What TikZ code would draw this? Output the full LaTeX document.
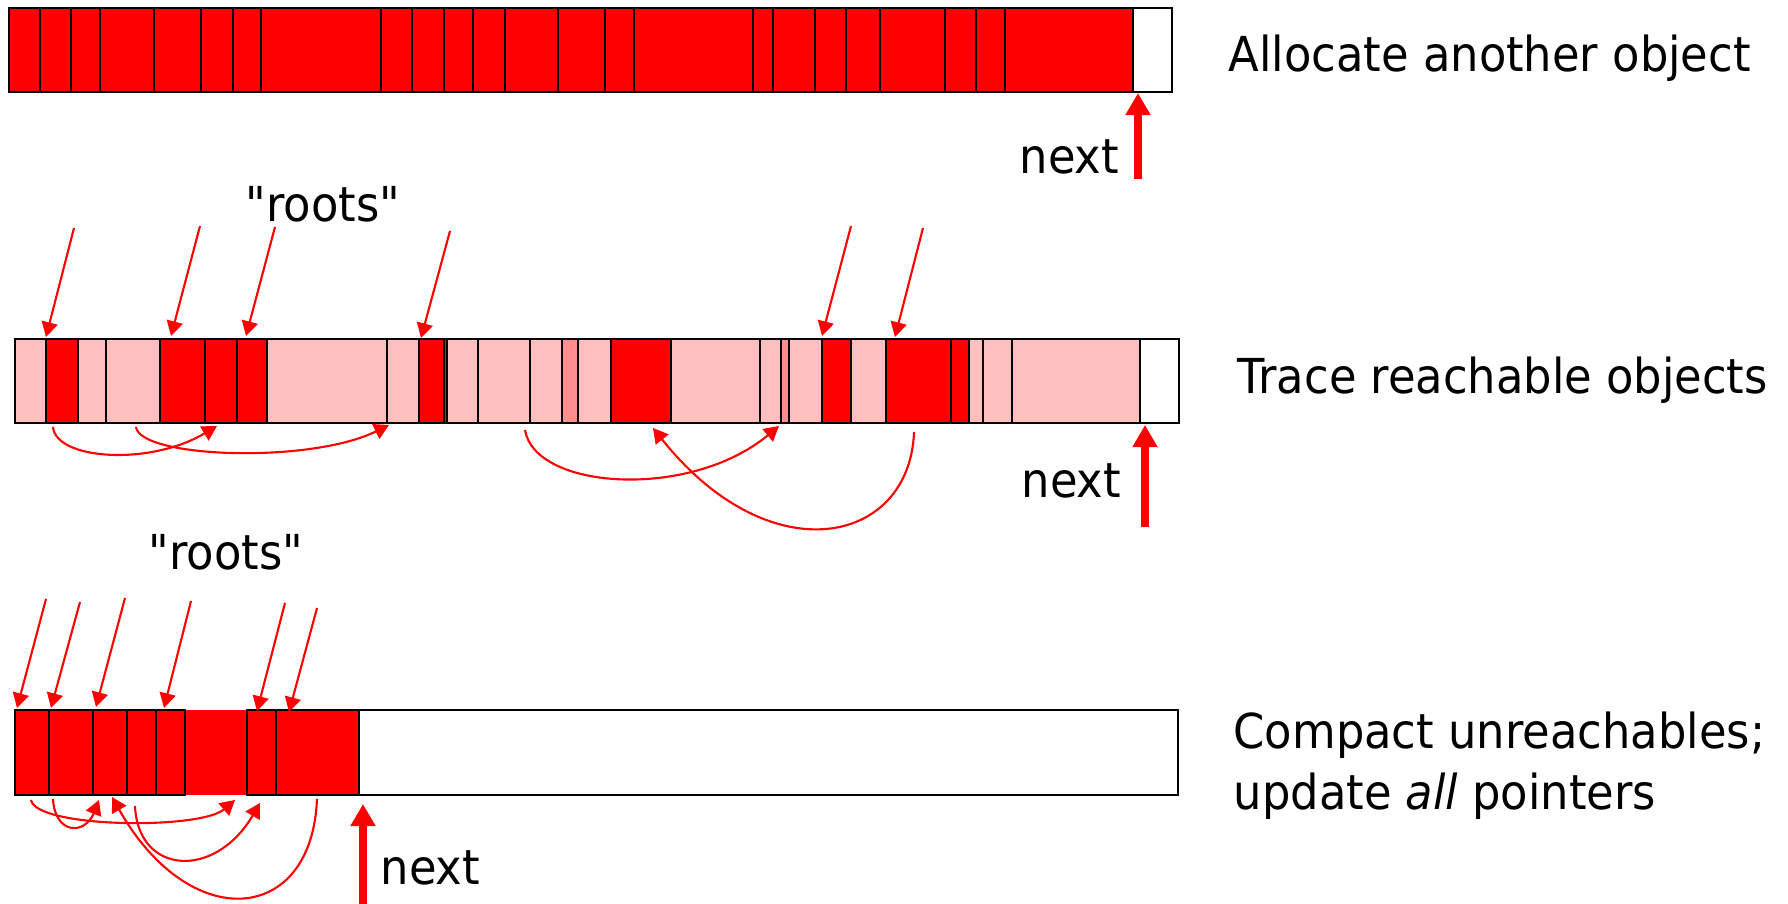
\documentclass[tikz,border=0pt]{standalone}
\usepackage{fontspec}
\setmainfont{DejaVu Sans}[FakeStretch=0.93,Ligatures=TeXOff]
\usetikzlibrary{arrows.meta}
\definecolor{live}{RGB}{255,0,0}
\definecolor{dead}{RGB}{255,191,191}
\definecolor{deadish}{RGB}{255,143,143}
\tikzset{
  cell/.style={draw=black,line width=0.7pt},
  ptr/.style={draw=red,line width=0.6pt,-{Triangle[width=4.6pt,length=4.2pt]}},
  nextptr/.style={draw=red,line width=2.3pt,-{Triangle[width=6.8pt,length=6.3pt]}},
  lbl/.style={font=\fontsize{13.7}{17.5}\selectfont,inner sep=0pt,anchor=base west}
}
\begin{document}
\begin{tikzpicture}[x=0.01cm,y=-0.01cm]
\useasboundingbox (0,0) rectangle (1788,904);

\foreach \a/\b in {9/40,40/71,71/100,100/154,154/201,201/233,233/261,261/381,381/412,412/444,444/473,473/505,505/558,558/605,605/634,634/753,753/773,773/815,815/846,846/880,880/945,945/976,976/1005,1005/1133}
  \draw[cell,fill=live] (\a,8) rectangle (\b,92);
\draw[cell,fill=white] (1133,8) rectangle (1172,92);
\node[lbl] (allocate) at (1228,72) {Allocate another object};
\node[lbl] (nextA) at (1019,174) {next};
\coordinate (footA) at (1138,179);
\coordinate (tipA) at (1138,93);
\draw[nextptr] (footA) -- (tipA);

\foreach \a/\b/\c in {15/46/dead,46/78/live,78/106/dead,106/160/dead,160/205/live,205/237/live,237/267/live,267/387/dead,387/419/dead,419/444/live,444/447/live,447/478/dead,478/530/dead,530/562/dead,562/578/deadish,578/611/dead,611/671/live,671/760/dead,760/781/dead,781/789/deadish,789/822/dead,822/851/live,851/886/dead,886/951/live,951/969/live,969/983/dead,983/1012/dead,1012/1140/dead,1140/1179/white}
  \draw[cell,fill=\c] (\a,339) rectangle (\b,423);
\node[lbl] (rootsB) at (245,222) {"roots"};
\node[lbl] (trace) at (1237,394) {Trace reachable objects};
\node[lbl] (nextB) at (1021,498) {next};
\foreach \n/\sx/\sy/\ex/\ey in {1/74/228/46/337,2/200/226/171/336,3/275/227/246/336,4/450/231/421/338,5/851/226/822/336,6/923/228/895/337}{
  \coordinate (rootB\n) at (\sx,\sy);
  \coordinate (objB\n) at (\ex,\ey);
  \draw[ptr] (rootB\n) -- (objB\n);
}
\coordinate (fromA) at (53,427);
\coordinate (toA) at (217,426);
\coordinate (fromB) at (136,427);
\coordinate (toB) at (389,425);
\coordinate (fromC) at (525,430);
\coordinate (toC) at (779,426);
\coordinate (fromD) at (914,432);
\coordinate (toD) at (653,428);
\draw[ptr] (fromA) .. controls (56,460) and (150,466) .. (toA);
\draw[ptr] (fromB) .. controls (140,458) and (310,464) .. (toB);
\draw[ptr] (fromC) .. controls (535,490) and (690,500) .. (toC);
\draw[ptr] (fromD) .. controls (910,545) and (770,575) .. (toD);
\coordinate (footB) at (1145,527);
\coordinate (tipB) at (1145,425);
\draw[nextptr] (footB) -- (tipB);

\draw[cell,fill=white] (359,710) rectangle (1178,795);
\fill[live] (185,709.6) rectangle (247,795.4);
\foreach \a/\b in {15/49,49/93,93/127,127/156,156/185,247/276,276/359}
  \draw[cell,fill=live] (\a,710) rectangle (\b,795);
\node[lbl] (rootsC) at (148,570) {"roots"};
\node[lbl] (compact) at (1233,749) {Compact unreachables;};
\node[lbl] (update) at (1233,810) {update \emph{all} pointers};
\node[lbl] (nextC) at (380,885) {next};
\foreach \n/\sx/\sy/\ex/\ey in {1/46/599/17/708,2/80/602/51/708,3/125/598/96/707,4/191/601/164/708,5/285/603/257/711,6/317/608/289/712}{
  \coordinate (rootC\n) at (\sx,\sy);
  \coordinate (objC\n) at (\ex,\ey);
  \draw[ptr] (rootC\n) -- (objC\n);
}
\coordinate (fromE) at (31,800);
\coordinate (toE) at (235,800);
\coordinate (fromF) at (53,799);
\coordinate (toF) at (99,800);
\coordinate (fromG) at (135,806);
\coordinate (toG) at (260,803);
\coordinate (fromH) at (317,799);
\coordinate (toH) at (112,797);
\draw[ptr] (fromE) .. controls (36,828) and (200,830) .. (toE);
\draw[ptr] (fromF) .. controls (55,835) and (85,835) .. (toF);
\draw[ptr] (fromG) .. controls (138,875) and (215,880) .. (toG);
\draw[ptr] (fromH) .. controls (312,925) and (190,935) .. (toH);
\coordinate (footC) at (363,904);
\coordinate (tipC) at (363,804);
\draw[nextptr] (footC) -- (tipC);

\end{tikzpicture}
\end{document}
